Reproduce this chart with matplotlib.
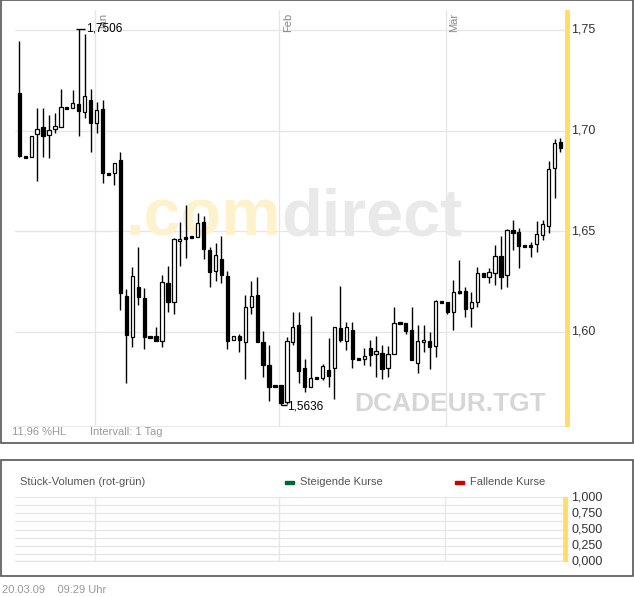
import matplotlib
matplotlib.use('Agg')
import matplotlib.pyplot as plt
from matplotlib.patches import Rectangle
import numpy as np

plt.rcParams['font.family'] = ['Liberation Sans', 'DejaVu Sans']

# Daily OHLC, 19.12.08 - 20.03.09 (calendar days)
opens = [1.7187, 1.6869, 1.6869, 1.6983, 1.7018, 1.6978, 1.7008, 1.7018, 1.7113, 1.7113,
         1.7133, 1.7093, 1.7153, 1.7038, 1.7108, 1.6785, 1.6790, 1.6854, 1.6179, 1.5975,
         1.6223, 1.6169, 1.5975, 1.5980, 1.5955, 1.6243, 1.6149, 1.6452, 1.6472, 1.6472,
         1.6472, 1.6546, 1.6407, 1.6303, 1.6362, 1.6278, 1.5960, 1.5980, 1.5950, 1.6124,
         1.6184, 1.5950, 1.5836, 1.5731, 1.5736, 1.5652, 1.5950, 1.6035, 1.5821, 1.5726,
         1.5771, 1.5771, 1.5811, 1.5821, 1.6020, 1.5955, 1.6010, 1.5866, 1.5866, 1.5920,
         1.5891, 1.5896, 1.5821, 1.5891, 1.6045, 1.6045, 1.6010, 1.5846, 1.5950, 1.5955,
         1.5930, 1.6149, 1.6149, 1.6099, 1.6198, 1.6203, 1.6119, 1.6149, 1.6293, 1.6273,
         1.6293, 1.6377, 1.6283, 1.6506, 1.6496, 1.6427, 1.6432, 1.6437, 1.6482, 1.6526,
         1.6814, 1.6944]
closes = [1.6874, 1.6869, 1.6973, 1.7008, 1.6973, 1.7003, 1.7023, 1.7118, 1.7113, 1.7138,
          1.7098, 1.7173, 1.7038, 1.7103, 1.6790, 1.6785, 1.6839, 1.6194, 1.5985, 1.6278,
          1.6174, 1.5975, 1.5975, 1.5955, 1.6248, 1.6149, 1.6462, 1.6462, 1.6467, 1.6472,
          1.6541, 1.6412, 1.6298, 1.6382, 1.6283, 1.5955, 1.5980, 1.5960, 1.6124, 1.6179,
          1.5950, 1.5836, 1.5726, 1.5731, 1.5647, 1.5955, 1.6025, 1.5806, 1.5726, 1.5771,
          1.5771, 1.5831, 1.5781, 1.6025, 1.5960, 1.6025, 1.5866, 1.5866, 1.5881, 1.5886,
          1.5906, 1.5816, 1.5891, 1.6045, 1.6045, 1.6005, 1.5861, 1.5955, 1.5960, 1.5925,
          1.6154, 1.6149, 1.6099, 1.6198, 1.6203, 1.6114, 1.6149, 1.6293, 1.6273, 1.6298,
          1.6377, 1.6273, 1.6506, 1.6492, 1.6427, 1.6427, 1.6427, 1.6487, 1.6536, 1.6810,
          1.6939, 1.6914]
highs = [1.7445, 1.6869, 1.6973, 1.7113, 1.7113, 1.7078, 1.7088, 1.7207, 1.7113, 1.7202,
         1.7506, 1.7480, 1.7207, 1.7143, 1.7153, 1.6785, 1.6839, 1.6894, 1.6213, 1.6323,
         1.6422, 1.6218, 1.5975, 1.6025, 1.6283, 1.6328, 1.6467, 1.6546, 1.6631, 1.6472,
         1.6591, 1.6576, 1.6422, 1.6442, 1.6477, 1.6303, 1.5980, 1.5990, 1.6184, 1.6253,
         1.6273, 1.6005, 1.5935, 1.5731, 1.5736, 1.5975, 1.6099, 1.6099, 1.5866, 1.6079,
         1.5771, 1.5840, 1.5970, 1.6025, 1.6228, 1.6050, 1.6050, 1.5866, 1.5920, 1.5960,
         1.5980, 1.5935, 1.5930, 1.6124, 1.6045, 1.6045, 1.6124, 1.6035, 1.6035, 1.6000,
         1.6159, 1.6149, 1.6149, 1.6258, 1.6357, 1.6223, 1.6198, 1.6323, 1.6293, 1.6318,
         1.6432, 1.6477, 1.6511, 1.6556, 1.6516, 1.6427, 1.6447, 1.6551, 1.6556, 1.6849,
         1.6959, 1.6964]
lows = [1.6870, 1.6869, 1.6869, 1.6750, 1.6869, 1.6864, 1.6988, 1.7018, 1.7113, 1.7113,
        1.6973, 1.7063, 1.6894, 1.6988, 1.6740, 1.6785, 1.6730, 1.6109, 1.5746, 1.5925,
        1.6134, 1.5915, 1.5975, 1.5955, 1.5925, 1.6099, 1.6089, 1.6328, 1.6367, 1.6472,
        1.6472, 1.6362, 1.6223, 1.6253, 1.6243, 1.5915, 1.5960, 1.5900, 1.5766, 1.6089,
        1.5950, 1.5776, 1.5657, 1.5731, 1.5636, 1.5640, 1.5935, 1.5746, 1.5702, 1.5726,
        1.5771, 1.5760, 1.5726, 1.5667, 1.5950, 1.5910, 1.5821, 1.5866, 1.5836, 1.5831,
        1.5776, 1.5766, 1.5776, 1.5891, 1.6045, 1.5990, 1.5861, 1.5796, 1.5900, 1.5816,
        1.5876, 1.6149, 1.6089, 1.6010, 1.6188, 1.6075, 1.6025, 1.6124, 1.6273, 1.6243,
        1.6233, 1.6213, 1.6223, 1.6407, 1.6318, 1.6427, 1.6372, 1.6397, 1.6457, 1.6492,
        1.6665, 1.6894]

price_ticks = [1.60, 1.65, 1.70, 1.75]
month_labels = ['Jan', 'Feb', 'Mär']
month_days = [13, 44, 72]
vol_ticks = [0.0, 0.25, 0.5, 0.75, 1.0]

W, H = 634, 597
fig = plt.figure(figsize=(W / 100, H / 100), dpi=100)


def fx(px):
    return px / W


def fy(py):
    return 1 - py / H


# panel frames
for y0, y1 in [(0, 443), (460, 576)]:
    fig.patches.append(Rectangle((fx(0.5), fy(y1)), fx(632.5), (y1 - y0) / H,
                                 transform=fig.transFigure, fill=False,
                                 edgecolor='#555555', linewidth=1.2))

# main chart
ax = fig.add_axes([fx(15), fy(427), fx(555), (427 - 10) / H])
ax.set_xlim(-0.72, 92.6)
ax.set_ylim(1.5528, 1.7599)
for s in ax.spines.values():
    s.set_visible(False)
ax.set_xticks([])
ax.set_yticks([])
for p in price_ticks:
    ax.axhline(p, color='#e6e6e6', linewidth=1, zorder=0)
ax.axhline(1.5528, color='#e6e6e6', linewidth=2, zorder=0)
for d, lab in zip(month_days, month_labels):
    ax.axvline(d - 0.3, color='#e6e6e6', linewidth=1, zorder=0)
    ax.text(d + 0.3, 1.7585, lab, rotation=90, va='top', ha='left',
            fontsize=8, color='#888888')

# watermark
ax.text(0.48, 0.5, '.com', transform=ax.transAxes, fontsize=48, fontweight='bold',
        color='#fdf2cc', ha='right', va='center', zorder=0)
ax.text(0.48, 0.5, 'direct', transform=ax.transAxes, fontsize=48, fontweight='bold',
        color='#e9e9e9', ha='left', va='center', zorder=0)
ax.text(0.612, 0.055, 'DCADEUR.TGT', transform=ax.transAxes, fontsize=19,
        fontweight='bold', color='#d6d6d6', ha='left', va='center', zorder=0)

days = np.arange(len(opens))
o = np.array(opens)
c = np.array(closes)
ax.vlines(days, lows, highs, color='black', linewidth=1, zorder=2)
up = c >= o
bottom = np.minimum(o, c)
height = np.maximum(np.abs(c - o), 0.0009)
flat = np.abs(c - o) < 0.0009
ax.bar(days[up & ~flat], height[up & ~flat], bottom=bottom[up & ~flat], width=0.55,
       facecolor='white', edgecolor='black', linewidth=0.9, zorder=3)
ax.bar(days[~up | flat], height[~up | flat], bottom=bottom[~up | flat] - flat[~up | flat] * 0.00045,
       width=0.55, facecolor='black', edgecolor='black', linewidth=0.9, zorder=3)

# high / low markers
hi = int(np.argmax(highs))
lo = int(np.argmin(lows))
ax.hlines(highs[hi], hi - 0.5, hi + 1, color='black', linewidth=1)
ax.text(hi + 1.2, highs[hi], f'{highs[hi]:.4f}'.replace('.', ','), fontsize=8.5,
        va='center', ha='left')
ax.hlines(lows[lo], lo, lo + 1, color='black', linewidth=1)
ax.text(lo + 1.1, lows[lo] - 0.0004, f'{lows[lo]:.4f}'.replace('.', ','), fontsize=8.5,
        va='center', ha='left')

# yellow bar and price labels
ax.axvline(92.1, color='#ffdd66', linewidth=3.5, zorder=4)
for p in price_ticks:
    ax.text(92.8, p, f'{p:.2f}'.replace('.', ','), fontsize=9, color='#333333',
            va='center', ha='left', clip_on=False)

fig.text(fx(12), fy(432), '11,96 %HL', fontsize=8, color='#999999', va='center')
fig.text(fx(90), fy(432), 'Intervall: 1 Tag', fontsize=8, color='#999999', va='center')

# volume panel
av = fig.add_axes([fx(15), fy(562), fx(554), (562 - 497) / H])
av.set_xlim(-0.72, 92.6)
av.set_ylim(0, 1)
for s in av.spines.values():
    s.set_visible(False)
av.set_xticks([])
av.set_yticks([])
for v in np.arange(0.125, 1.01, 0.125):
    av.axhline(v, color='#e6e6e6', linewidth=1, zorder=0)
av.axhline(0, color='#e3e3e3', linewidth=2.5, zorder=0)
for d in month_days:
    av.axvline(d - 0.3, color='#e6e6e6', linewidth=1, zorder=0)
av.axvline(92.0, color='#ffdd66', linewidth=3.5, zorder=4)
for v in vol_ticks:
    av.text(93.0, v, f'{v:.3f}'.replace('.', ','), fontsize=9, color='#333333',
            va='center', ha='left', clip_on=False)

fig.text(fx(20), fy(482), 'Stück-Volumen (rot-grün)', fontsize=8, color='#555555', va='center')
fig.patches.append(Rectangle((fx(285), fy(484)), fx(9), 3 / H, transform=fig.transFigure,
                             color='#006633'))
fig.text(fx(300), fy(482), 'Steigende Kurse', fontsize=8, color='#555555', va='center')
fig.patches.append(Rectangle((fx(455), fy(484)), fx(9), 3 / H, transform=fig.transFigure,
                             color='#cc0000'))
fig.text(fx(470), fy(482), 'Fallende Kurse', fontsize=8, color='#555555', va='center')

fig.text(fx(2), fy(590), '20.03.09    09:29 Uhr', fontsize=8, color='#999999', va='center')

fig.savefig('out.png', dpi=100)
